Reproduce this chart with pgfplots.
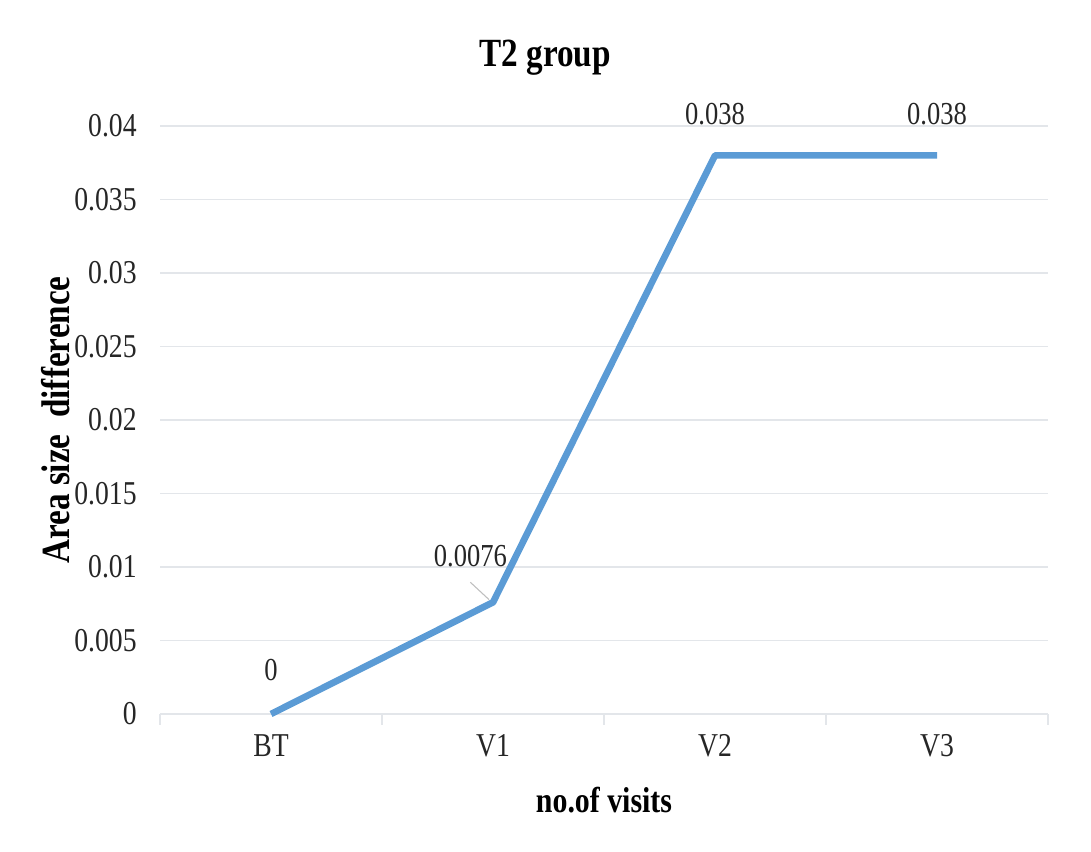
\documentclass[border=0pt]{standalone}
\usepackage{fontspec}
\setmainfont{Liberation Serif}[FakeStretch=0.83]
\usepackage{pgfplots}
\pgfplotsset{compat=1.18}
\usepackage{pgfplotstable}
\definecolor{lineblue}{HTML}{5B9BD5}
\definecolor{gridgray}{HTML}{E3E6EA}
\pgfplotstableread{
x y dx dy lab
0 0      0   33 0
1 0.0076 -17 35 0.0076
2 0.038  0   31 0.038
3 0.038  0   31 0.038
}\datatable
\begin{document}
\begin{tikzpicture}[x=0.75pt,y=0.75pt]
\begin{axis}[
  scale only axis,
  width=666pt, height=441pt,
  xmin=-0.5, xmax=3.5,
  ymin=0, ymax=0.04,
  xtick={0,1,2,3},
  xticklabels={BT,V1,V2,V3},
  minor xtick={-0.5,0.5,1.5,2.5,3.5},
  ytick={0,0.005,0.01,0.015,0.02,0.025,0.03,0.035,0.04},
  scaled y ticks=false,
  yticklabel style={/pgf/number format/fixed,/pgf/number format/precision=3},
  /pgf/number format/assume math mode=true,
  ymajorgrids,
  grid style={gridgray, line width=1.2pt},
  axis x line*=bottom,
  axis y line*=left,
  y axis line style={draw=none},
  x axis line style={gridgray, line width=1.2pt},
  major tick length=0pt,
  minor tick length=8pt,
  xtick pos=bottom,
  ytick pos=left,
  tick align=outside,
  minor tick style={gridgray, line width=1.2pt},
  ticklabel style={font=\fontsize{25}{28}\selectfont, text=black!85},
  xticklabel style={yshift=-12pt},
  yticklabel style={xshift=-14pt},
  clip=false,
  point meta=explicit symbolic,
  nodes near coords,
  nodes near coords style={anchor=center, font=\fontsize{24}{28}\selectfont, text=black!85},
  visualization depends on={\thisrow{dx} \as \dx},
  visualization depends on={\thisrow{dy} \as \dy},
  every node near coord/.append style={xshift=\dx pt, yshift=\dy pt},
]
\addplot[lineblue, line width=5pt, line join=round] table[x=x, y=y, meta=lab] {\datatable};
\draw[black!25, line width=0.8pt] (axis cs:1,0.0076) ++(-3pt,2pt) -- ++(-14pt,13pt);
\node[font=\bfseries\fontsize{30}{34}\selectfont] at (rel axis cs:0.4336,1.1156) {T2 group};
\node[font=\bfseries\fontsize{30}{33}\selectfont, rotate=90] at (rel axis cs:-0.118,0.50) {Area size\ \ difference};
\node[font=\bfseries\fontsize{27}{30}\selectfont] at (rel axis cs:0.5,-0.146) {no.of visits};
\path (rel axis cs:-0.1802,-0.233) rectangle (rel axis cs:1.0484,1.2143);
\end{axis}
\end{tikzpicture}
\end{document}
